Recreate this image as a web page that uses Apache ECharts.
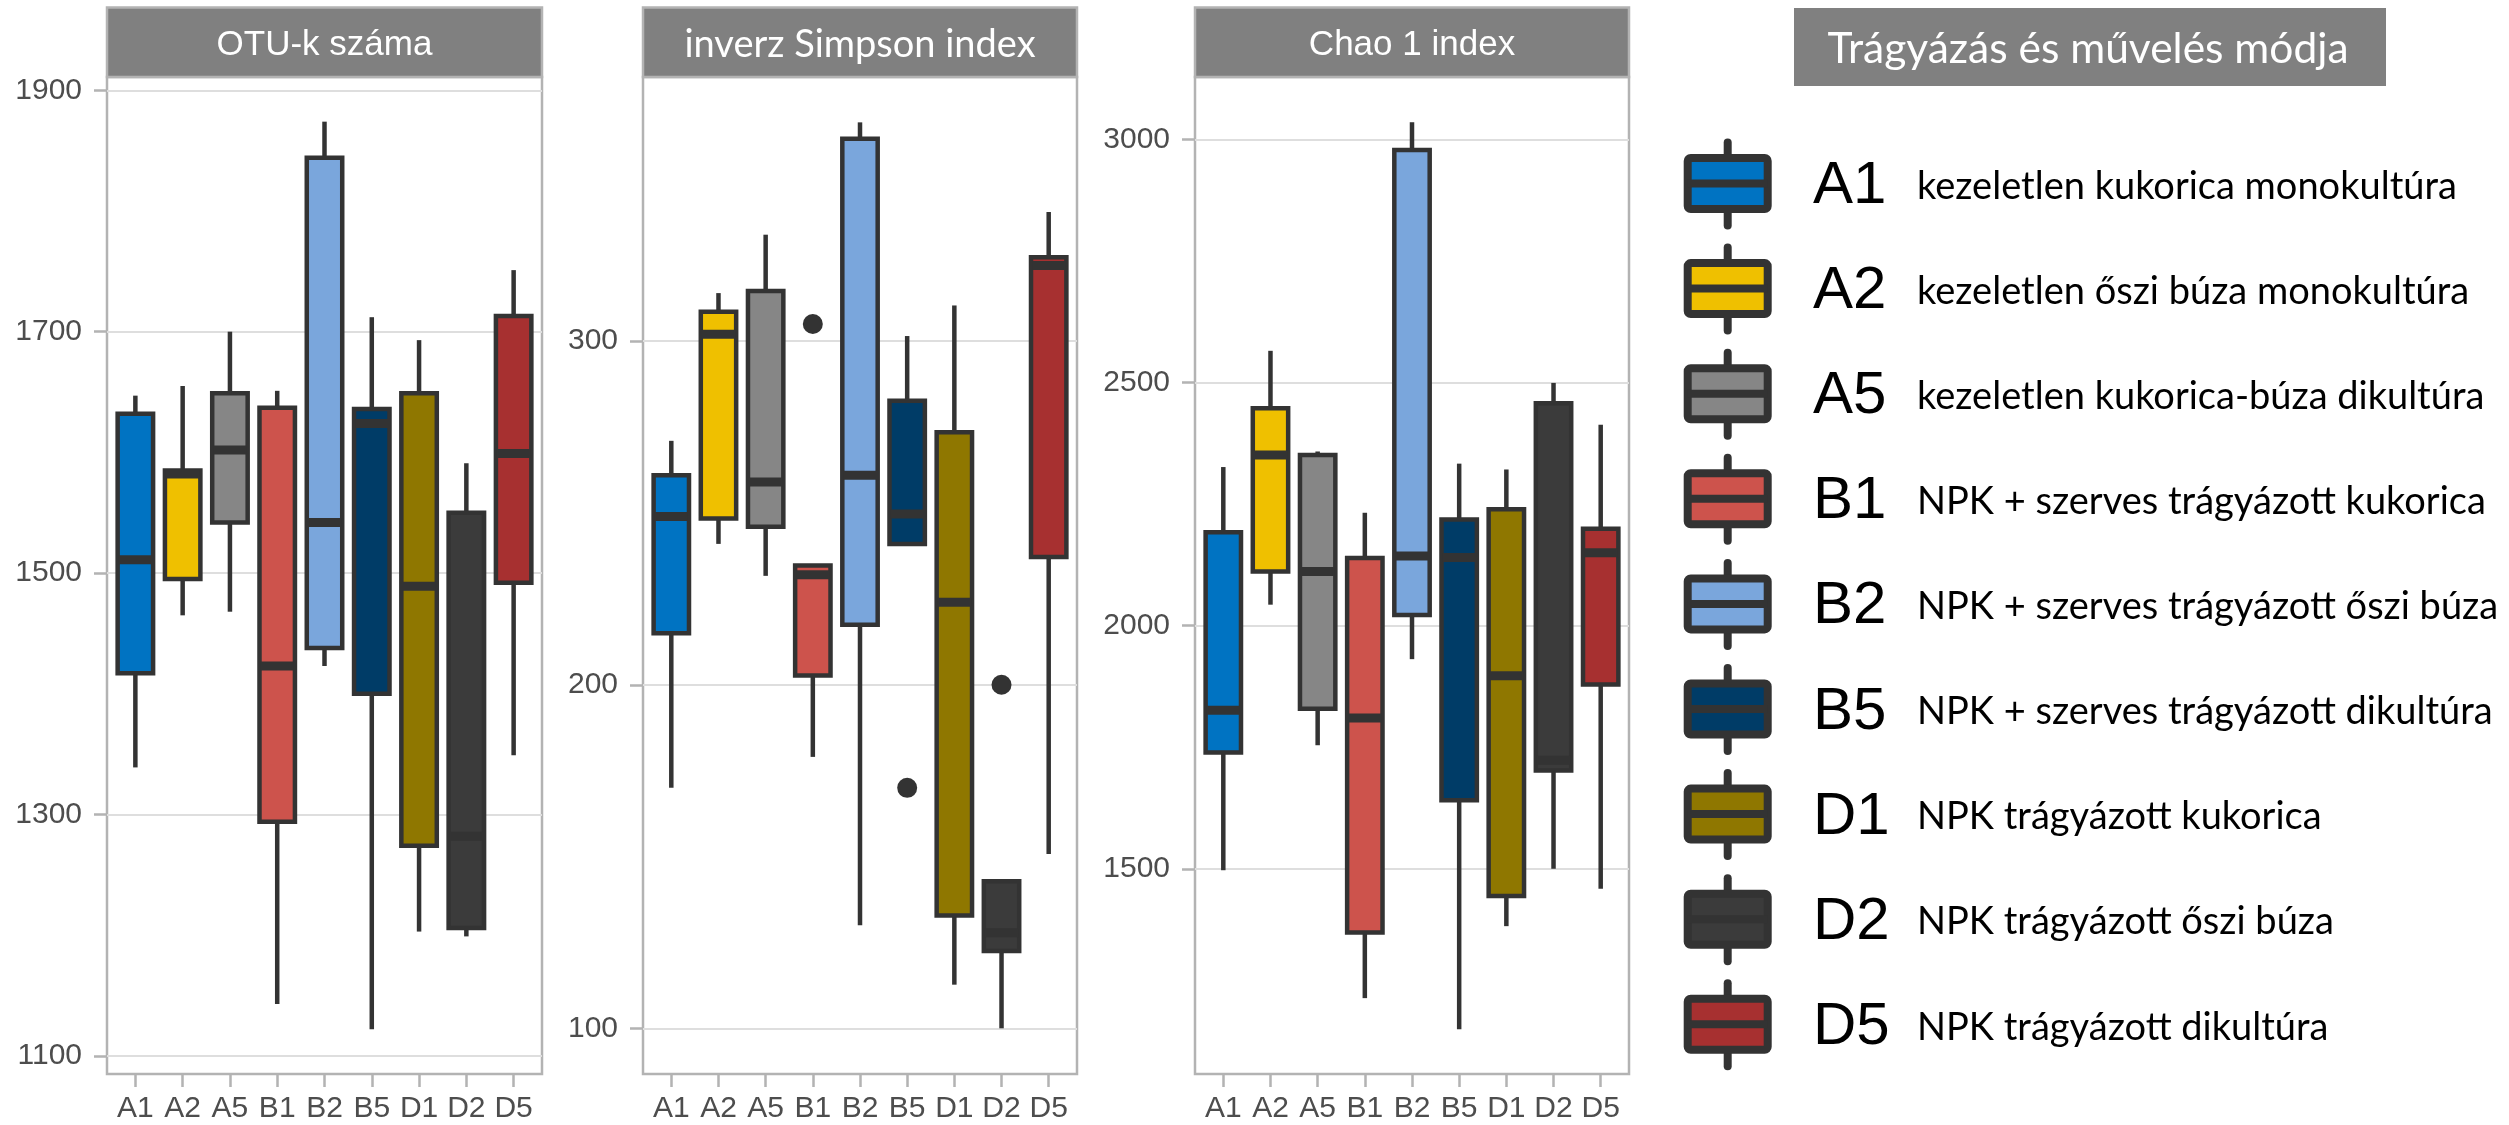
<!DOCTYPE html>
<html>
<head>
<meta charset="utf-8">
<script src="https://cdn.jsdelivr.net/npm/echarts@6.0.0/dist/echarts.min.js"></script>
<style>
html,body{margin:0;padding:0;background:#fff;}
#chart{width:2509px;height:1125px;}
</style>
</head>
<body>
<div id="chart"></div>
<script>
// ---------------- data ----------------
const categories = ['A1','A2','A5','B1','B2','B5','D1','D2','D5'];
const descriptions = [
  'kezeletlen kukorica monokultúra',
  'kezeletlen őszi búza monokultúra',
  'kezeletlen kukorica-búza dikultúra',
  'NPK + szerves trágyázott kukorica',
  'NPK + szerves trágyázott őszi búza',
  'NPK + szerves trágyázott dikultúra',
  'NPK trágyázott kukorica',
  'NPK trágyázott őszi búza',
  'NPK trágyázott dikultúra'
];
const panelTitles = ['OTU-k száma','inverz Simpson index','Chao 1 index'];
const legendTitle = 'Trágyázás és művelés módja';

// [lower whisker, Q1, median, Q3, upper whisker]
const otuBoxes = [
  [1339,1417,1511,1632,1647],
  [1465,1495,1582,1585,1655],
  [1468,1542,1602,1649,1700],
  [1143,1294,1423,1637,1651],
  [1423,1438,1542,1844,1874],
  [1122,1400,1624,1636,1712],
  [1203,1274,1489,1649,1693],
  [1199,1206,1282,1550,1591],
  [1349,1492,1599,1713,1751]
];
const simpsonBoxes = [
  [170,215,249,261,271],
  [241,248.4,302,308.6,314],
  [231.7,246,259,314.6,331],
  [179,202.7,232,234.7,234.7],
  [130,217.5,261,358.9,363.7],
  [241,241,249.7,282.7,301.5],
  [112.7,132.8,224,273.5,310.4],
  [100,122.5,127.8,142.8,142.8],
  [150.7,237.2,322,324.4,337.6]
];
const chaoBoxes = [
  [1497,1739,1826,2192,2326],
  [2043,2111,2351,2447,2565],
  [1754,1829,2111,2351,2358],
  [1234,1369,1810,2139,2232],
  [1931,2022,2143,2978,3035],
  [1170,1641,2140,2218,2333],
  [1382,1444,1897,2239,2321],
  [1500,1702,1723,2457,2499],
  [1459,1879,2150,2199,2413]
];
const otuOutliers = [];
const simpsonOutliers = [['B1',305],['B5',170],['D2',200]];
const chaoOutliers = [];

const otuTicks = [1100,1300,1500,1700,1900];
const simpsonTicks = [100,200,300];
const chaoTicks = [1500,2000,2500,3000];

// ---------------- styles ----------------
const palette = ['#0073C2','#EFC000','#868686','#CD534C','#7AA6DC','#003C67','#8F7700','#3B3B3B','#A73030'];
const ARIAL = '"Liberation Sans", Arial, sans-serif';
const CALIBRI = 'Lato, "Open Sans", sans-serif';
const LINE = '#333333';

const panels = [
  {left:107, width:435, min:1085, max:1911, boxes:otuBoxes, outliers:otuOutliers, ticks:otuTicks, split:4, titleFont:ARIAL, titleSize:35},
  {left:643, width:434, min:86.7, max:376.9, boxes:simpsonBoxes, outliers:simpsonOutliers, ticks:simpsonTicks, split:3, titleFont:CALIBRI, titleSize:38},
  {left:1195, width:434, min:1078, max:3128, boxes:chaoBoxes, outliers:chaoOutliers, ticks:chaoTicks, split:4, titleFont:ARIAL, titleSize:35}
];
const gridTop = 77, gridBottomY = 1074, stripTop = 7.5;

const grids = [], xAxes = [], yAxes = [], series = [], graphics = [];
const catIdx = categories.map((c,i)=>i+1);

panels.forEach((p, k) => {
  grids.push({left:p.left, top:gridTop, width:p.width, height:gridBottomY-gridTop,
    show:true, borderColor:'#b3b3b3', borderWidth:2.5, backgroundColor:'#fff', containLabel:false});
  xAxes.push({
    type:'value', gridIndex:k, min:0.4, max:9.6,
    axisLine:{show:false}, splitLine:{show:false},
    axisTick:{show:true, customValues:catIdx, length:13, lineStyle:{color:'#b3b3b3', width:2.5}},
    axisLabel:{customValues:catIdx, margin:20, fontSize:30, fontFamily:ARIAL, color:'#4d4d4d',
      formatter:v => (Number.isInteger(v) && v>=1 && v<=categories.length) ? categories[v-1] : ''}
  });
  yAxes.push({
    type:'value', gridIndex:k, min:p.min, max:p.max, splitNumber:p.split,
    axisLine:{show:false},
    axisTick:{show:true, customValues:p.ticks, length:13, lineStyle:{color:'#b3b3b3', width:2.5}},
    axisLabel:{customValues:p.ticks, margin:25, fontSize:30, fontFamily:ARIAL, color:'#4d4d4d',
      formatter:v => String(v)},
    splitLine:{show:true, lineStyle:{color:'#dedede', width:2}}
  });
  const data = p.boxes.map((b,i)=>[i+1].concat(b));
  series.push({
    type:'custom', xAxisIndex:k, yAxisIndex:k, data:data, clip:false, z:3,
    encode:{x:0, y:[1,2,3,4,5]},
    renderItem:function(params, api){
      const xi = api.value(0);
      const half = api.size([0.75,0])[0]/2;
      const pMin = api.coord([xi, api.value(1)]);
      const pQ1 = api.coord([xi, api.value(2)]);
      const pMed = api.coord([xi, api.value(3)]);
      const pQ3 = api.coord([xi, api.value(4)]);
      const pMax = api.coord([xi, api.value(5)]);
      const cx = pMed[0];
      const children = [];
      if (pMax[1] < pQ3[1]) children.push({type:'line', shape:{x1:cx,y1:pMax[1],x2:cx,y2:pQ3[1]}, style:{stroke:LINE, lineWidth:4.5}});
      if (pMin[1] > pQ1[1]) children.push({type:'line', shape:{x1:cx,y1:pQ1[1],x2:cx,y2:pMin[1]}, style:{stroke:LINE, lineWidth:4.5}});
      children.push({type:'rect', shape:{x:cx-half, y:pQ3[1], width:2*half, height:pQ1[1]-pQ3[1]},
        style:{fill:palette[params.dataIndex], stroke:LINE, lineWidth:4.5}});
      children.push({type:'line', shape:{x1:cx-half+1,y1:pMed[1],x2:cx+half-1,y2:pMed[1]}, style:{stroke:LINE, lineWidth:9}});
      return {type:'group', children:children};
    }
  });
  if (p.outliers.length) {
    series.push({
      type:'scatter', xAxisIndex:k, yAxisIndex:k, z:4, symbolSize:20,
      itemStyle:{color:LINE, opacity:1},
      data:p.outliers.map(o=>[categories.indexOf(o[0])+1, o[1]])
    });
  }
  // strip header
  graphics.push({type:'rect', z:10, shape:{x:p.left, y:stripTop, width:p.width, height:gridTop-stripTop},
    style:{fill:'#808080', stroke:'#b3b3b3', lineWidth:2.5}});
  graphics.push({type:'text', z:11, x:p.left+p.width/2, y:45,
    style:{text:panelTitles[k], fill:'#ffffff', fontSize:p.titleSize, fontFamily:p.titleFont,
      align:'center', verticalAlign:'middle', textAlign:'center', textVerticalAlign:'middle'}});
});

// legend (drawn as graphics)
graphics.push({type:'rect', z:10, shape:{x:1794, y:8, width:592, height:78}, style:{fill:'#808080'}});
graphics.push({type:'text', z:11, x:2088, y:49,
  style:{text:legendTitle, fill:'#ffffff', fontSize:42.5, fontFamily:CALIBRI,
    align:'center', verticalAlign:'middle', textAlign:'center', textVerticalAlign:'middle'}});
categories.forEach((c,i)=>{
  const cy = 183.5 + 105.1*i;
  const cx = 1727.7;
  graphics.push({type:'line', z:10, shape:{x1:cx,y1:cy-41,x2:cx,y2:cy-25}, style:{stroke:LINE, lineWidth:8, lineCap:'round'}});
  graphics.push({type:'line', z:10, shape:{x1:cx,y1:cy+25,x2:cx,y2:cy+42}, style:{stroke:LINE, lineWidth:8, lineCap:'round'}});
  graphics.push({type:'rect', z:11, shape:{x:cx-40, y:cy-25.5, width:80, height:51, r:3},
    style:{fill:palette[i], stroke:LINE, lineWidth:8}});
  graphics.push({type:'line', z:12, shape:{x1:cx-40,y1:cy,x2:cx+40,y2:cy}, style:{stroke:LINE, lineWidth:8}});
  graphics.push({type:'text', z:11, x:1813, y:cy+3,
    style:{text:c, fill:'#000', fontSize:60, fontFamily:ARIAL, align:'left', verticalAlign:'middle', textVerticalAlign:'middle'}});
  graphics.push({type:'text', z:11, x:1917, y:cy+3,
    style:{text:descriptions[i], fill:'#000', fontSize:38, fontFamily:CALIBRI, align:'left', verticalAlign:'middle', textVerticalAlign:'middle'}});
});

const chart = echarts.init(document.getElementById('chart'), null, {renderer:'canvas'});
chart.setOption({
  animation:false,
  backgroundColor:'#ffffff',
  grid:grids, xAxis:xAxes, yAxis:yAxes, series:series,
  graphic:{elements:graphics}
});
</script>
</body>
</html>
